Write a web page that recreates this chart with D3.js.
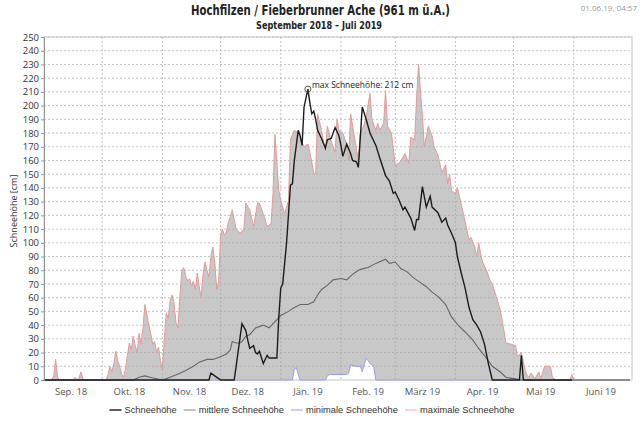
<!DOCTYPE html>
<html>
<head>
<meta charset="utf-8">
<script src="https://cdn.jsdelivr.net/npm/d3@7"></script>
<style>
  body { margin: 0; background: #fff; }
  svg { display: block; }
</style>
</head>
<body>
<div id="chart"></div>
<script>
// Tage ab 1. September 2018, Werte in cm
const startDate = new Date(2018, 8, 1);
const endDate = new Date(2019, 6, 1);

const monthLabels = ["Sep. 18", "Okt. 18", "Nov. 18", "Dez. 18", "Jän. 19", "Feb. 19", "März 19", "Apr. 19", "Mai 19", "Juni 19"];
const yTicks = [0, 10, 20, 30, 40, 50, 60, 70, 80, 90, 100, 110, 120, 130, 140, 150, 160, 170, 180, 190, 200, 210, 220, 230, 240, 250];

// maximale Schneehöhe [tag, cm]
const maxSnow = [[0,0],[4,0],[5,3],[6,15],[7,2],[8,0],[15,0],[16,2],[17,0],[18,1],[19,6],[20,1],[21,0],
  [32,0],[33,4],[34,10],[35,6],[36,12],[37,21],[38,14],[39,10],[40,4],[41,2],[42,8],[43,18],[44,27],[45,22],
  [46,32],[47,25],[48,20],[49,34],[50,26],[51,38],[52,55],[53,48],[54,40],[55,34],[56,26],[57,28],[58,20],
  [59,24],[60,14],[61,8],[62,30],[63,49],[64,45],[65,58],[66,62],[67,56],[68,42],[69,38],[70,60],[71,80],
  [72,82],[73,76],[74,72],[75,74],[76,69],[77,72],[78,66],[79,78],[80,68],[81,60],[82,78],[83,86],[84,80],
  [85,75],[86,90],[87,97],[88,86],[89,66],[90,72],[91,106],[92,110],[93,105],[94,108],[95,115],[96,119],
  [97,124],[98,117],[99,110],[101,107],[103,110],[104,129],[106,124],[108,112],[110,129],[111,129],[113,121],
  [115,112],[117,114],[118,136],[119,179],[121,138],[122,131],[124,121],[126,131],[127,175],[129,182],[131,180],
  [133,173],[134,170],[136,172],[137,166],[139,151],[140,150],[141,194],[143,182],[145,167],[146,185],[148,174],
  [150,166],[151,190],[152,182],[154,180],[156,172],[157,160],[158,194],[160,177],[162,160],[163,180],[165,186],
  [166,192],[168,209],[169,190],[171,182],[172,187],[173,182],[175,187],[176,211],[177,185],[179,180],[181,157],
  [183,158],[184,160],[186,165],[188,158],[189,177],[191,175],[192,206],[193,230],[195,192],[196,170],[198,185],
  [200,178],[201,170],[203,164],[205,151],[207,157],[208,143],[209,150],[210,138],[212,136],[213,140],[214,134],
  [216,122],[218,109],[219,102],[220,104],[222,97],[223,90],[224,100],[225,92],[226,86],[228,80],[230,72],
  [231,70],[233,61],[235,52],[237,36],[238,27],[241,26],[243,25],[244,17],[246,20],[248,7],[249,3],[250,2],
  [251,5],[253,1],[255,6],[256,1],[258,10],[261,10],[262,2],[264,0],[271,0],[272,4],[273,0],[302,0]];

// minimale Schneehöhe
const minSnow = [[0,0],[128,0],[129,8],[130,9],[131,4],[132,0],[145,0],[146,3],[147,4],[156,4],[157,5],[158,11],
  [160,10],[163,10],[164,6],[166,16],[168,12],[169,11],[170,9],[171,0],[302,0]];

// mittlere Schneehöhe
const meanSnow = [[0,0],[46,0],[49,2],[52,3],[56,1.5],[61,0],[65,2],[70,5],[73,7],[77,10],[80,13],[84,15],[87,15],
  [91,17],[94,19],[96,22],[97,28],[99,27],[101,27],[102,28],[104,32],[106,33],[109,38],[113,40],[116,38],[120,44],
  [122,47],[126,50],[128,52],[132,55],[136,55],[139,57],[141,62],[143,66],[146,69],[149,73],[153,74],[156,73],
  [159,77],[162,80],[164,81],[167,82],[171,85],[176,88],[178,85],[181,86],[184,81],[187,79],[190,75],[194,71],
  [197,68],[200,64],[203,61],[207,55],[210,46],[214,39],[217,35],[221,29],[224,23],[228,16],[231,10],[235,6],
  [238,2],[242,1],[246,0],[302,0]];

// Schneehöhe Saison 2018/19
const snowDepth = [[0,0],[85,0],[86,5],[88,3],[90,1],[91,0],[98,0],[99,10],[102,41],[104,36],[105,29],[106,23],
  [108,25],[109,20],[110,19],[111,21],[113,12],[115,18],[116,16],[120,16],[121,46],[122,67],[123,70],[125,100],
  [127,142],[128,143],[129,160],[131,182],[132,178],[133,171],[134,199],[136,212],[137,202],[138,194],[139,196],
  [140,190],[141,182],[143,176],[145,169],[146,175],[148,176],[150,184],[152,178],[153,171],[154,163],[156,172],
  [158,165],[159,160],[161,159],[162,155],[164,199],[166,190],[168,180],[171,171],[173,162],[176,149],[178,145],
  [180,136],[181,137],[183,131],[185,124],[186,126],[189,118],[191,109],[192,117],[193,117],[195,141],[197,126],
  [199,134],[200,126],[203,122],[205,115],[207,118],[208,113],[210,107],[212,100],[213,90],[215,78],[217,67],
  [219,53],[221,44],[223,40],[225,35],[227,26],[229,12],[231,0],[245,0],[246,18],[247,0],[272,0]];

const width = 640, height = 423;
const margin = { top: 37, right: 8, bottom: 43, left: 44 };

const svg = d3.select("#chart").append("svg")
  .attr("width", width)
  .attr("height", height);

const x = d3.scaleTime().domain([startDate, endDate]).range([margin.left, width - margin.right]);
const y = d3.scaleLinear().domain([0, 250]).range([height - margin.bottom, margin.top]);

const day = (d) => d3.timeDay.offset(startDate, d[0]);

// Flächen: grau bis zum Maximum, weiß bis zum Minimum
const area = d3.area().x((d) => x(day(d))).y0(y(0)).y1((d) => y(d[1]));
const line = d3.line().x((d) => x(day(d))).y((d) => y(d[1]));

svg.append("path").datum(maxSnow).attr("d", area).attr("fill", "#c8c8c8");
svg.append("path").datum(minSnow).attr("d", area).attr("fill", "#ffffff");

// Gitter
const months = d3.timeMonth.range(startDate, endDate);
svg.append("g")
  .selectAll("line")
  .data(yTicks.slice(1))
  .join("line")
  .attr("x1", margin.left).attr("x2", width - margin.right)
  .attr("y1", (d) => y(d)).attr("y2", (d) => y(d))
  .attr("stroke", "#a8a8a8").attr("stroke-opacity", 0.7)
  .attr("stroke-dasharray", "2,2");
svg.append("g")
  .selectAll("line")
  .data(months.slice(1))
  .join("line")
  .attr("x1", (d) => x(d)).attr("x2", (d) => x(d))
  .attr("y1", y(250)).attr("y2", y(0))
  .attr("stroke", "#a8a8a8").attr("stroke-opacity", 0.7)
  .attr("stroke-dasharray", "2,2");

// Rahmen
svg.append("rect")
  .attr("x", margin.left).attr("y", margin.top)
  .attr("width", width - margin.left - margin.right)
  .attr("height", height - margin.top - margin.bottom)
  .attr("fill", "none").attr("stroke", "#c4c4c4");

// Linien
svg.append("path").datum(maxSnow).attr("d", line)
  .attr("fill", "none").attr("stroke", "#e39a9a").attr("stroke-width", 1);
svg.append("path").datum(minSnow).attr("d", line)
  .attr("fill", "none").attr("stroke", "#9c9cee").attr("stroke-width", 1);
svg.append("path").datum(meanSnow).attr("d", line)
  .attr("fill", "none").attr("stroke", "#666").attr("stroke-width", 1.1);
svg.append("path").datum(snowDepth).attr("d", line)
  .attr("fill", "none").attr("stroke", "#1c1c1c").attr("stroke-width", 1.4);

// Y-Achse
const yAxis = svg.append("g")
  .attr("transform", `translate(${margin.left},0)`)
  .call(d3.axisLeft(y).tickValues(yTicks).tickSize(3).tickPadding(2));
yAxis.select(".domain").attr("stroke", "#999");
yAxis.selectAll(".tick line").attr("stroke", "#999");
yAxis.selectAll("text")
  .attr("font-family", "'Open Sans', sans-serif")
  .attr("font-size", "9.5px")
  .attr("fill", "#333");

svg.append("text")
  .attr("transform", "translate(15,211) rotate(-90)")
  .attr("text-anchor", "middle")
  .attr("dominant-baseline", "middle")
  .attr("font-family", "'Open Sans', sans-serif")
  .attr("font-size", "9px")
  .attr("fill", "#333")
  .text("Schneehöhe [cm]");

// X-Beschriftung: Monatsmitte
svg.append("g")
  .selectAll("text")
  .data(months)
  .join("text")
  .attr("x", (d) => x(d3.timeDay.offset(d, 14)))
  .attr("y", 395)
  .attr("text-anchor", "middle")
  .attr("font-family", "'Open Sans', sans-serif")
  .attr("font-size", "9.5px")
  .attr("fill", "#555")
  .text((d, i) => monthLabels[i]);

// Maximum markieren
const peak = snowDepth.reduce((a, b) => (b[1] > a[1] ? b : a));
svg.append("circle")
  .attr("cx", x(day(peak))).attr("cy", y(peak[1]))
  .attr("r", 3)
  .attr("fill", "none").attr("stroke", "#555");
svg.append("text")
  .attr("x", x(day(peak)) + 4).attr("y", y(peak[1]) - 1)
  .attr("font-family", "'Open Sans', sans-serif")
  .attr("font-size", "8.5px")
  .attr("fill", "#222")
  .text("max Schneehöhe: " + peak[1] + " cm");

// Titel (schmale Schrift gibt es nicht, daher auf Breite gestaucht)
svg.append("text")
  .attr("x", 191).attr("y", 15)
  .attr("textLength", 259).attr("lengthAdjust", "spacingAndGlyphs")
  .attr("font-family", "'DejaVu Sans', sans-serif")
  .attr("font-weight", "bold")
  .attr("font-size", "13.5px")
  .attr("fill", "#222")
  .text("Hochfilzen / Fieberbrunner Ache (961 m ü.A.)");
svg.append("text")
  .attr("x", 256).attr("y", 29)
  .attr("textLength", 126).attr("lengthAdjust", "spacingAndGlyphs")
  .attr("font-family", "'DejaVu Sans', sans-serif")
  .attr("font-weight", "bold")
  .attr("font-size", "10.5px")
  .attr("fill", "#222")
  .text("September 2018 – Juli 2019");
svg.append("text")
  .attr("x", 637).attr("y", 11)
  .attr("text-anchor", "end")
  .attr("font-family", "'Open Sans', sans-serif")
  .attr("font-size", "8px")
  .attr("fill", "#999")
  .text("01.06.19, 04:57");

// Legende
const legendItems = [
  { label: "Schneehöhe", color: "#333", w: 1.6 },
  { label: "mittlere Schneehöhe", color: "#999", w: 1.2 },
  { label: "minimale Schneehöhe", color: "#aab0ee", w: 1.2 },
  { label: "maximale Schneehöhe", color: "#f0b8b8", w: 1.2 },
];
const legend = svg.append("g");
let lx = 0;
legendItems.forEach((item) => {
  legend.append("line")
    .attr("x1", lx).attr("x2", lx + 12)
    .attr("y1", 0).attr("y2", 0)
    .attr("stroke", item.color).attr("stroke-width", item.w);
  const t = legend.append("text")
    .attr("x", lx + 15).attr("y", 3.3)
    .attr("font-family", "'Liberation Sans', Arial, sans-serif")
    .attr("font-size", "9.3px")
    .attr("fill", "#333")
    .text(item.label);
  lx += 15 + t.node().getComputedTextLength() + 7;
});
legend.attr("transform", `translate(${(width - (lx - 7)) / 2 - 8},410)`);
</script>
</body>
</html>
